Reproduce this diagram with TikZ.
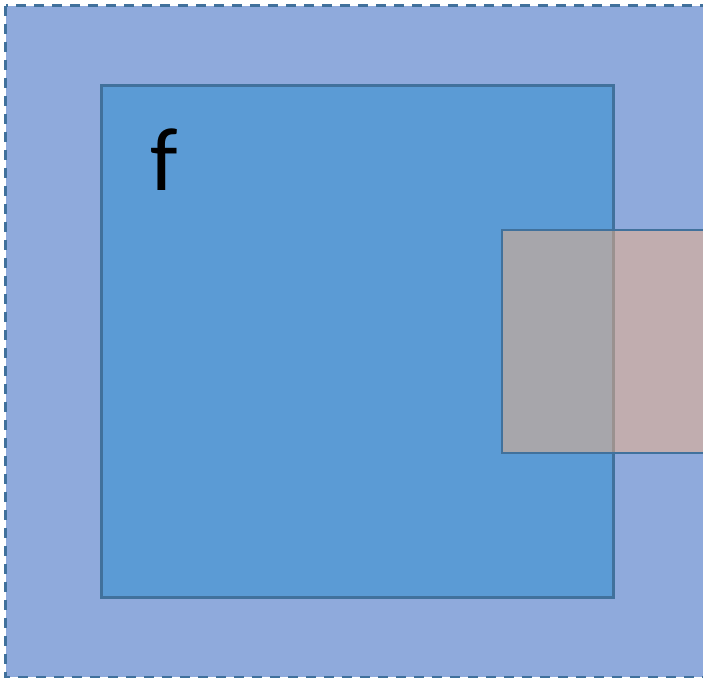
\documentclass[tikz,border=0pt]{standalone}
\usepackage{fontspec}
\setmainfont{Carlito}
\definecolor{outerfill}{HTML}{8FAADC}
\definecolor{innerfill}{HTML}{5B9BD5}
\definecolor{edge}{HTML}{41719C}
\definecolor{patch}{HTML}{F4B183}
\tikzset{
  outerbox/.style={draw=edge, line width=2.4pt, fill=outerfill, dash pattern=on 10pt off 8pt},
  innerbox/.style={draw=edge, line width=2.6pt, fill=innerfill},
  patchbox/.style={draw=edge, line width=2.4pt, fill=patch, fill opacity=0.5},
  label/.style={font=\fontsize{90}{90}\selectfont, inner sep=0pt}
}
\begin{document}
\begin{tikzpicture}[x=1pt,y=-1pt]
\useasboundingbox (0,0) rectangle (703,678);
\clip (0,0) rectangle (703,678);
\path[outerbox] (5.5,5.5) rectangle (730,677);
\path[innerbox] (101.5,85.5) rectangle (613.5,597.5);
\path[patchbox] (502,230) rectangle (760,453);
\node[label] (f) at (164,160) {f};
\end{tikzpicture}
\end{document}
